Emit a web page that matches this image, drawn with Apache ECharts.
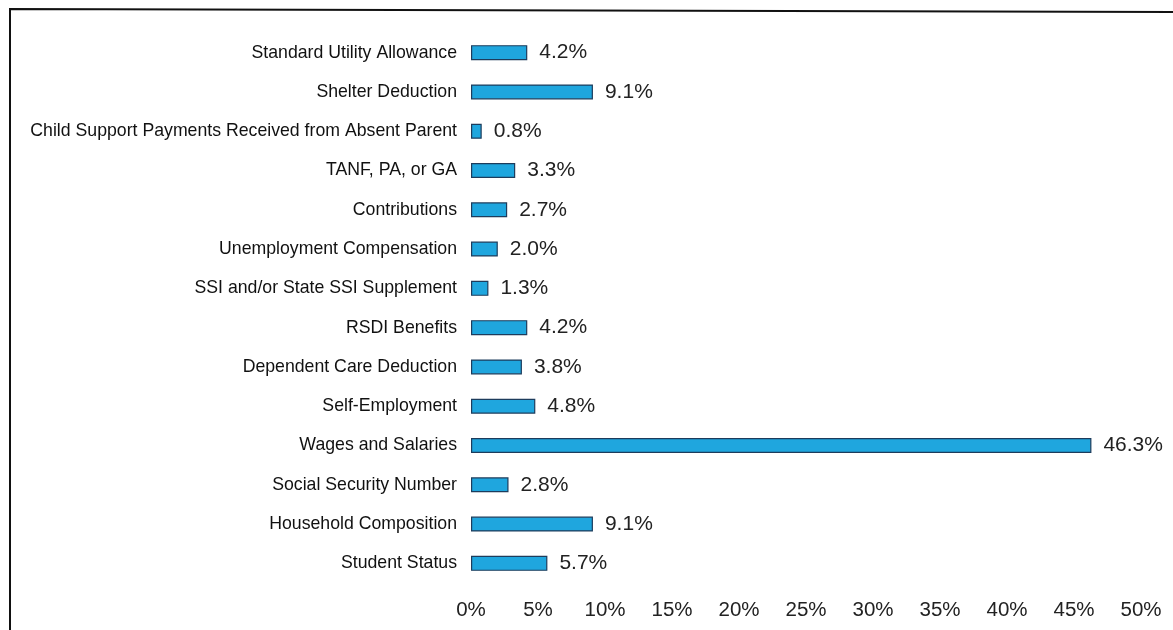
<!DOCTYPE html>
<html>
<head>
<meta charset="utf-8">
<script src="https://cdn.jsdelivr.net/npm/echarts@6/dist/echarts.min.js"></script>
<style>html,body{margin:0;padding:0;background:#fff;}#c{width:1173px;height:630px;}</style>
</head>
<body>
<div id="c"></div>
<script>
const categories = [
  "Standard Utility Allowance",
  "Shelter Deduction",
  "Child Support Payments Received from Absent Parent",
  "TANF, PA, or GA",
  "Contributions",
  "Unemployment Compensation",
  "SSI and/or State SSI Supplement",
  "RSDI Benefits",
  "Dependent Care Deduction",
  "Self-Employment",
  "Wages and Salaries",
  "Social Security Number",
  "Household Composition",
  "Student Status"
];
const values = [4.2, 9.1, 0.8, 3.3, 2.7, 2.0, 1.3, 4.2, 3.8, 4.8, 46.3, 2.8, 9.1, 5.7];
const xTicks = [0, 5, 10, 15, 20, 25, 30, 35, 40, 45, 50];

const FONT = "'Liberation Sans', Arial, sans-serif";
const chart = echarts.init(document.getElementById('c'), null, {renderer: 'canvas'});
chart.setOption({
  animation: false,
  backgroundColor: '#fff',
  grid: {left: 471, right: 32, top: 33, bottom: 47, containLabel: false},
  xAxis: {
    type: 'value', min: xTicks[0], max: xTicks[xTicks.length - 1], interval: 5,
    axisLine: {show: false}, axisTick: {show: false}, splitLine: {show: false},
    axisLabel: {formatter: v => v + '%', fontSize: 20.5, color: '#222', fontFamily: FONT, margin: 17}
  },
  yAxis: {
    type: 'category', data: categories, inverse: true,
    axisLine: {show: false}, axisTick: {show: false},
    axisLabel: {fontSize: 17.7, color: '#111', fontFamily: FONT, margin: 14}
  },
  series: [{
    type: 'bar', data: values, barWidth: 15,
    itemStyle: {color: '#1fa6de', borderColor: '#1d3c5c', borderWidth: 1.2},
    label: {show: true, position: 'right', distance: 12, formatter: p => p.value.toFixed(1) + '%',
      fontSize: 21, color: '#222', fontFamily: FONT}
  }],
  graphic: [{
    type: 'polyline', silent: true,
    shape: {points: [[10, 630], [10, 9], [1173, 12]]},
    style: {stroke: '#111', lineWidth: 2, fill: null}
  }]
});
</script>
</body>
</html>
